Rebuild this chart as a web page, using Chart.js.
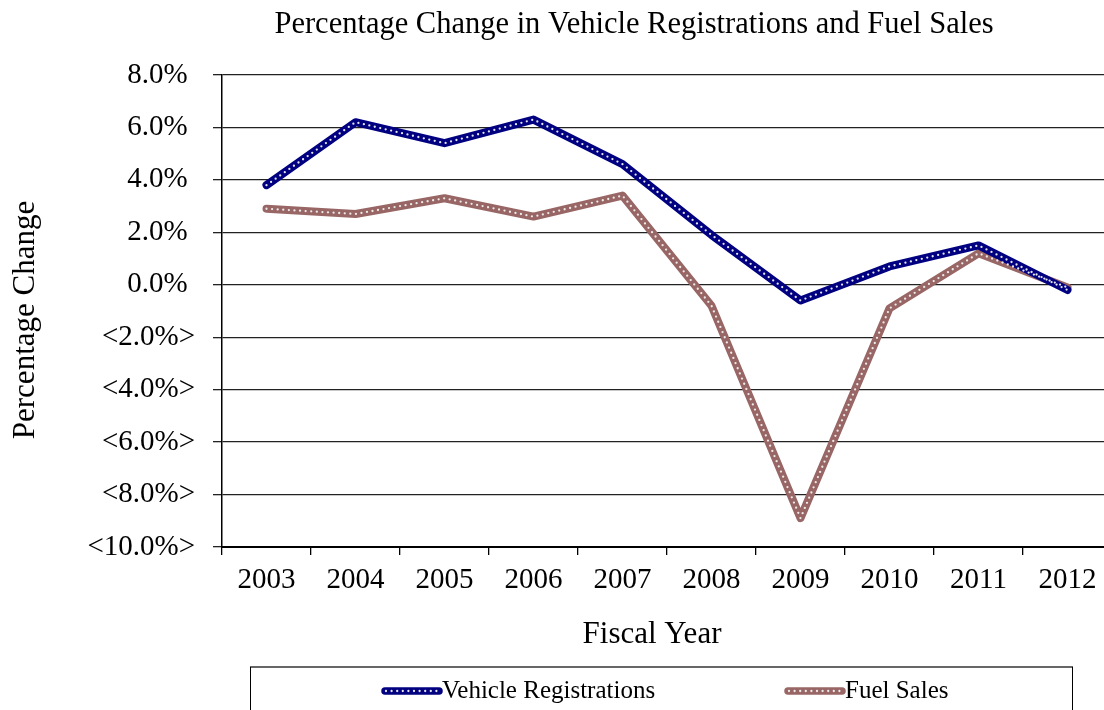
<!DOCTYPE html>
<html>
<head>
<meta charset="utf-8">
<script src="https://cdn.jsdelivr.net/npm/chart.js@4.4.0/dist/chart.umd.min.js"></script>
<style>
  html, body { margin: 0; padding: 0; background: #ffffff; overflow: hidden; }
  #wrap { position: relative; width: 1104px; height: 710px; overflow: hidden; }
  #c { position: absolute; left: 0; top: 0; }
</style>
</head>
<body>
<div id="wrap"><canvas id="c" width="1112" height="710"></canvas></div>
<script>
const chartTitle = 'Percentage Change in Vehicle Registrations and Fuel Sales';
const xAxisTitle = 'Fiscal Year';
const yAxisTitle = 'Percentage Change';
const categories = ['2003', '2004', '2005', '2006', '2007', '2008', '2009', '2010', '2011', '2012'];
const vehicleRegistrations = [3.8, 6.2, 5.4, 6.3, 4.6, 1.9, -0.6, 0.7, 1.5, -0.2];
const fuelSales = [2.9, 2.7, 3.3, 2.6, 3.4, -0.8, -8.9, -0.9, 1.2, -0.1];
const seriesNames = ['Vehicle Registrations', 'Fuel Sales'];
const seriesColors = ['#000080', '#996666'];
const yMin = -10, yMax = 8, yStep = 2;

const SERIF = '"Liberation Serif", "Times New Roman", serif';

function fmtTick(v) {
  if (v < 0) return '<' + Math.abs(v).toFixed(1) + '%>';
  return v.toFixed(1) + '% ';
}

function dotStroke(ctx, pts) {
  ctx.save();
  ctx.strokeStyle = 'rgba(240,240,240,0.95)';
  ctx.lineWidth = 2.3;
  ctx.lineCap = 'round';
  ctx.lineJoin = 'round';
  ctx.setLineDash([0, 5.6]);
  ctx.beginPath();
  pts.forEach((p, i) => { if (i === 0) ctx.moveTo(p.x, p.y); else ctx.lineTo(p.x, p.y); });
  ctx.stroke();
  ctx.restore();
}

const decorPlugin = {
  id: 'decor',
  afterDatasetsDraw(chart) {
    const ctx = chart.ctx;
    chart.data.datasets.forEach((ds, i) => {
      const meta = chart.getDatasetMeta(i);
      dotStroke(ctx, meta.data.map(p => ({x: p.x, y: p.y})));
    });
  },
  afterDraw(chart) {
    const ctx = chart.ctx;
    // title
    ctx.save();
    ctx.fillStyle = '#000';
    ctx.font = '30.5px ' + SERIF;
    ctx.textAlign = 'center';
    ctx.textBaseline = 'alphabetic';
    ctx.fillText(chartTitle, 634, 33);
    // x axis title
    ctx.font = '31px ' + SERIF;
    ctx.fillText(xAxisTitle, 652, 643);
    ctx.restore();

    // y axis title
    ctx.save();
    ctx.fillStyle = '#000';
    ctx.font = '31px ' + SERIF;
    ctx.textAlign = 'center';
    ctx.textBaseline = 'alphabetic';
    ctx.translate(34, 320);
    ctx.rotate(-Math.PI / 2);
    ctx.fillText(yAxisTitle, 0, 0);
    ctx.restore();

    // legend box
    ctx.save();
    ctx.strokeStyle = '#666';
    ctx.lineWidth = 2;
    ctx.beginPath();
    ctx.moveTo(250, 667); ctx.lineTo(1073, 667);
    ctx.stroke();
    ctx.strokeStyle = '#000';
    ctx.lineWidth = 1;
    ctx.beginPath();
    ctx.moveTo(250.5, 667); ctx.lineTo(250.5, 712);
    ctx.moveTo(1072.5, 667); ctx.lineTo(1072.5, 712);
    ctx.stroke();

    const starts = [382, 785];
    ctx.font = '25px ' + SERIF;
    ctx.textAlign = 'left';
    ctx.textBaseline = 'alphabetic';
    chart.data.datasets.forEach((ds, i) => {
      const x0 = starts[i];
      ctx.strokeStyle = ds.borderColor;
      ctx.lineWidth = 7.5;
      ctx.lineCap = 'round';
      ctx.beginPath();
      ctx.moveTo(x0 + 3, 691); ctx.lineTo(x0 + 57, 691);
      ctx.stroke();
      dotStroke(ctx, [{x: x0 + 4, y: 691}, {x: x0 + 57, y: 691}]);
      ctx.fillStyle = '#000';
      ctx.fillText(ds.label, x0 + 60, 698);
    });
    ctx.restore();
  }
};

new Chart(document.getElementById('c'), {
  type: 'line',
  data: {
    labels: categories,
    datasets: [
      { label: seriesNames[0], data: vehicleRegistrations, borderColor: seriesColors[0], backgroundColor: seriesColors[0],
        borderWidth: 8, pointRadius: 0, tension: 0, borderCapStyle: 'round', borderJoinStyle: 'round' },
      { label: seriesNames[1], data: fuelSales, borderColor: seriesColors[1], backgroundColor: seriesColors[1],
        borderWidth: 8, pointRadius: 0, tension: 0, borderCapStyle: 'round', borderJoinStyle: 'round' }
    ]
  },
  options: {
    responsive: false,
    animation: false,
    layout: { padding: { top: 75, bottom: 43, left: 0, right: 0 } },
    plugins: {
      legend: { display: false },
      title: { display: false },
      tooltip: { enabled: false }
    },
    scales: {
      x: {
        offset: true,
        grid: { offset: true, drawOnChartArea: false, drawTicks: true, tickLength: 8, color: '#000', lineWidth: 1.3 },
        border: { color: '#000', width: 2 },
        ticks: { color: '#000', font: { family: SERIF, size: 29 }, padding: 8, maxRotation: 0, autoSkip: false },
        title: { display: false },
        afterFit(scale) { scale.height = 120; }
      },
      y: {
        min: yMin, max: yMax,
        grid: { color: '#222', lineWidth: 1.3, drawTicks: true, tickLength: 9 },
        border: { color: '#000', width: 1.5 },
        ticks: { stepSize: yStep, color: '#000', font: { family: SERIF, size: 29 }, padding: 18, callback: fmtTick },
        title: { display: false },
        afterFit(scale) { scale.width = 222; }
      }
    }
  },
  plugins: [decorPlugin]
});
</script>
</body>
</html>
